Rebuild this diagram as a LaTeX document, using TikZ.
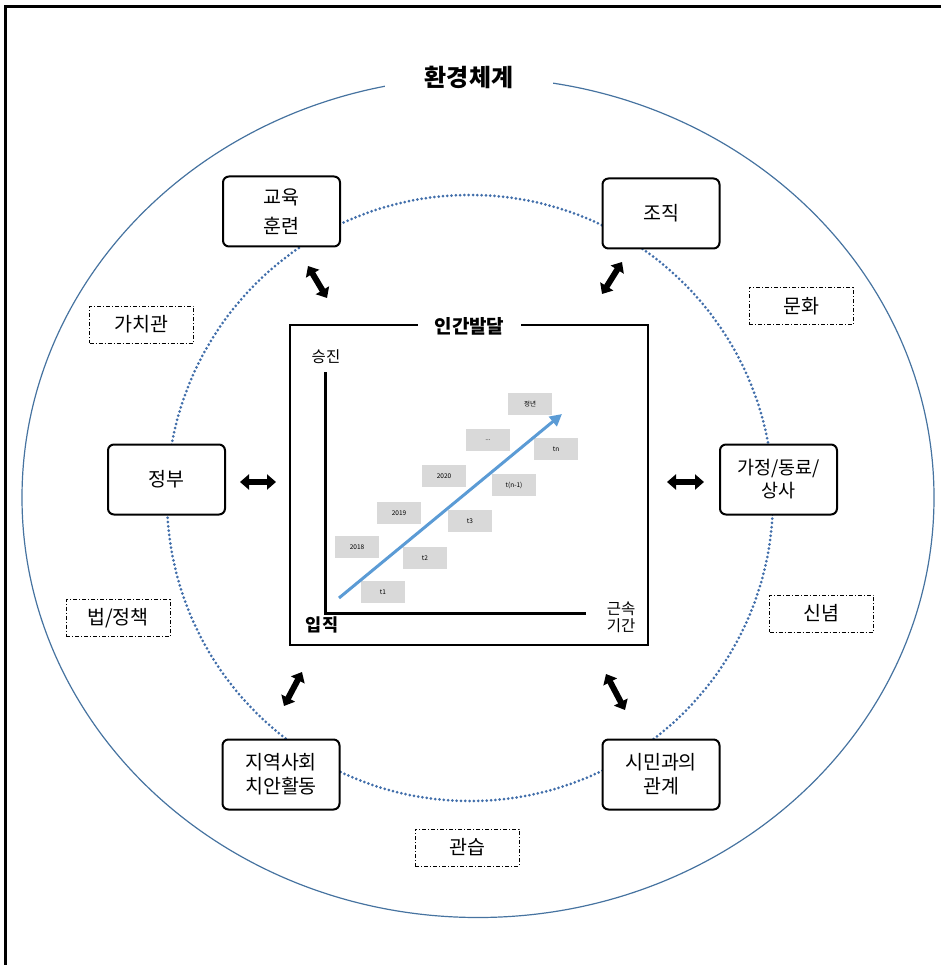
\documentclass[tikz,border=0pt]{standalone}
\usepackage{fontspec}
\setmainfont{Noto Sans CJK KR}
\usetikzlibrary{arrows.meta}
\definecolor{ringblue}{RGB}{70,115,160}
\definecolor{dotblue}{RGB}{65,110,170}
\definecolor{chartblue}{RGB}{91,155,213}
\definecolor{greybox}{RGB}{217,217,217}
\begin{document}
\begin{tikzpicture}[x=1pt,y=-1pt,
  factorbox/.style={draw, line width=2pt, rounded corners=6pt, fill=white,
    minimum width=117pt, minimum height=70pt, align=center, inner sep=2pt,
    font=\fontsize{19.5}{24}\selectfont},
  valuebox/.style={draw, line width=0.9pt, dash pattern=on 4pt off 2pt on 1pt off 2pt,
    fill=white, minimum width=104pt, minimum height=37pt, inner sep=1pt,
    font=\fontsize{19.5}{22}\selectfont},
  stepbox/.style={fill=greybox, minimum width=44pt, minimum height=22pt, inner sep=0pt,
    font=\fontsize{6.5}{7}\selectfont},
  biarrow/.style={line width=6pt, {Triangle[length=9pt,width=15pt]}-{Triangle[length=9pt,width=15pt]}},
  axislabel/.style={font=\fontsize{15.5}{17}\selectfont, align=center, inner sep=0pt}
]
\useasboundingbox (0,0) rectangle (941,965);
% outer frame
\draw[line width=3pt] (5.5,965) -- (5.5,6.5) -- (941,6.5);
% outer ring
\draw[ringblue, line width=1.2pt] (478,497.5) ellipse [x radius=456pt, y radius=420pt];
\node[fill=white, inner xsep=40pt, inner ysep=4pt, font=\fontsize{24}{28}\selectfont\bfseries] (envtitle) at (469,77) {환경체계};
% inner dotted ring
\draw[dotblue, line width=3pt, dash pattern=on 0pt off 4.3pt, line cap=round] (470,498) circle [radius=303pt];

% center box
\draw[line width=1.3pt] (290,325) rectangle (648,645);
\node[fill=white, inner xsep=17pt, inner ysep=3pt, font=\fontsize{19}{22}\selectfont\bfseries] (devtitle) at (469.5,326) {인간발달};

% axes
\coordinate (ytop) at (325,372);
\coordinate (origin) at (325,613);
\coordinate (xend) at (586,613);
\draw[line width=3pt] (ytop) -- (origin) -- (xend);
\node[axislabel] (ylabel) at (326,357) {승진};
\node[axislabel, font=\fontsize{17.5}{19}\selectfont\bfseries] (entry) at (322,625) {입직};
\node[axislabel] (xlabel) at (621,617) {근속\\기간};

% grey step boxes
\node[stepbox] (sRet) at (530,404) {정년};
\node[stepbox] (sDots) at (488,440) {...};
\node[stepbox] (sTn) at (556,449) {tn};
\node[stepbox] (s2020) at (444,476) {2020};
\node[stepbox] (sTn1) at (514,485) {t(n-1)};
\node[stepbox] (s2019) at (399,513) {2019};
\node[stepbox] (sT3) at (470,521) {t3};
\node[stepbox] (s2018) at (357,547) {2018};
\node[stepbox] (sT2) at (425,558) {t2};
\node[stepbox] (sT1) at (383,592) {t1};

% blue growth arrow
\coordinate (gs) at (339,598);
\coordinate (ge) at (562,414);
\draw[chartblue, line width=3pt, -{Triangle[length=12pt,width=12pt]}] (gs) -- (ge);

% factor boxes
\node[factorbox, font=\fontsize{19.5}{29}\selectfont] (edu) at (281.5,211.5) {교육\\훈련};
\node[factorbox] (org) at (661,213.5) {조직};
\node[factorbox] (gov) at (166.5,479.5) {정부};
\node[factorbox, font=\fontsize{18.5}{23}\selectfont] (fam) at (778.5,479.5) {가정/동료/\\상사};
\node[factorbox] (comm) at (281,774.5) {지역사회\\치안활동};
\node[factorbox] (cit) at (661,774.5) {시민과의\\관계};

% value boxes
\node[valuebox] (val) at (141.5,324.5) {가치관};
\node[valuebox] (cul) at (801,306) {문화};
\node[valuebox] (law) at (118,618) {법/정책};
\node[valuebox] (bel) at (821.5,613.5) {신념};
\node[valuebox] (cus) at (467,847.5) {관습};

% double arrows
\coordinate (a1s) at (308,266);
\coordinate (a1e) at (327,298);
\coordinate (a2s) at (622,262);
\coordinate (a2e) at (602,294);
\coordinate (a3s) at (240,482);
\coordinate (a3e) at (276,482);
\coordinate (a4s) at (667,482);
\coordinate (a4e) at (704,482);
\coordinate (a5s) at (302,672);
\coordinate (a5e) at (284,706);
\coordinate (a6s) at (606,674);
\coordinate (a6e) at (625,710);
\draw[biarrow] (a1s) -- (a1e);
\draw[biarrow] (a2s) -- (a2e);
\draw[biarrow] (a3s) -- (a3e);
\draw[biarrow] (a4s) -- (a4e);
\draw[biarrow] (a5s) -- (a5e);
\draw[biarrow] (a6s) -- (a6e);
\end{tikzpicture}
\end{document}
